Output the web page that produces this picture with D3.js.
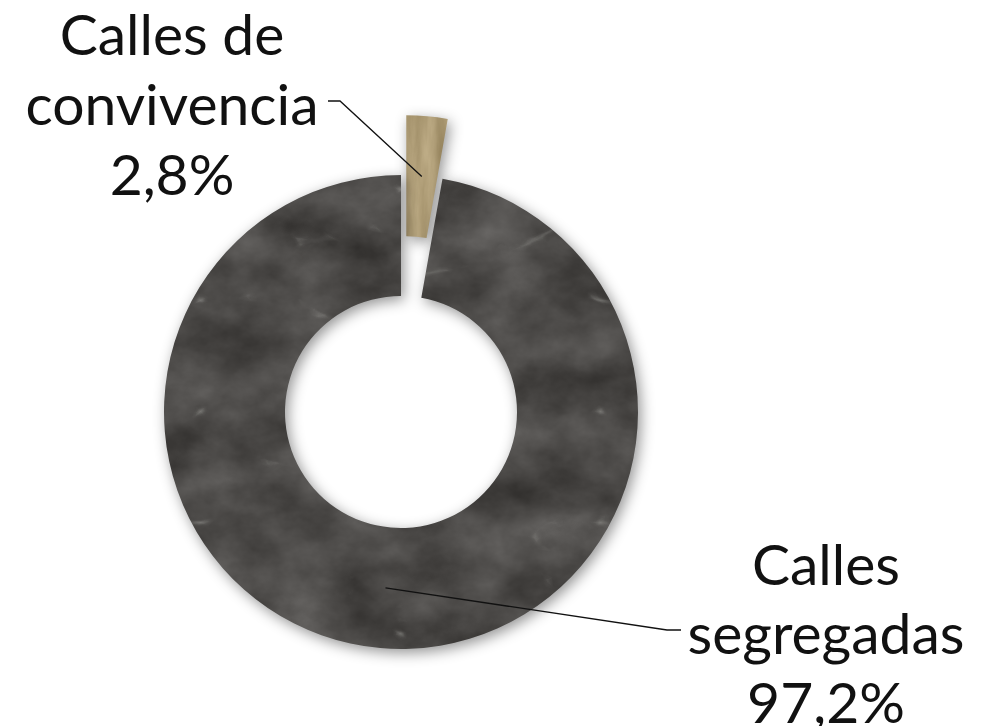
<!DOCTYPE html>
<html>
<head>
<meta charset="UTF-8">
<title>Calles</title>
<script src="https://cdnjs.cloudflare.com/ajax/libs/d3/7.8.5/d3.min.js"></script>
<style>
  html, body { margin: 0; padding: 0; background: #fff; }
  svg { display: block; }
  .lbl { font-family: Lato, "Open Sans", sans-serif; font-size: 57px; fill: #111; }
</style>
</head>
<body>
<div id="chart"></div>
<script>
// data
const categories = ["Calles de convivencia", "Calles segregadas"];
const values = [2.8, 97.2];
const labelLines = [["Calles de", "convivencia", "2,8%"], ["Calles", "segregadas", "97,2%"]];

const W = 997, H = 726;
const cx = 401, cy = 412;
const rOuter = 237, rInner = 116;
const explode = [60, 0];

const svg = d3.select("#chart").append("svg")
    .attr("width", W)
    .attr("height", H);

const defs = svg.append("defs");

// stone look: noise texture + light veins + soft drop shadow
function stoneFilter(id, off, amp, freq, veinFreq, veinAlpha, seed) {
    const f = defs.append("filter")
        .attr("id", id)
        .attr("filterUnits", "userSpaceOnUse")
        .attr("x", -W).attr("y", -H).attr("width", 2 * W).attr("height", 2 * H)
        .attr("color-interpolation-filters", "sRGB");
    f.append("feTurbulence")
        .attr("type", "fractalNoise").attr("baseFrequency", freq)
        .attr("numOctaves", 5).attr("seed", seed).attr("result", "n");
    f.append("feColorMatrix").attr("in", "n").attr("type", "matrix")
        .attr("values", `${amp} 0 0 0 ${off[0]}  ${amp} 0 0 0 ${off[1]}  ${amp} 0 0 0 ${off[2]}  0 0 0 0 1`)
        .attr("result", "tex");
    f.append("feTurbulence")
        .attr("type", "turbulence").attr("baseFrequency", veinFreq)
        .attr("numOctaves", 4).attr("seed", seed + 4).attr("result", "t");
    const ct = f.append("feComponentTransfer").attr("in", "t").attr("result", "veins");
    const tbl = [1, 0.6, 0.15].concat(d3.range(27).map(() => 0));
    ct.append("feFuncR").attr("type", "linear").attr("slope", 0).attr("intercept", 0.7);
    ct.append("feFuncG").attr("type", "linear").attr("slope", 0).attr("intercept", 0.7);
    ct.append("feFuncB").attr("type", "linear").attr("slope", 0).attr("intercept", 0.68);
    ct.append("feFuncA").attr("type", "table").attr("tableValues", tbl.map(v => v * veinAlpha).join(" "));
    const m1 = f.append("feMerge").attr("result", "stone");
    m1.append("feMergeNode").attr("in", "tex");
    m1.append("feMergeNode").attr("in", "veins");
    f.append("feComposite").attr("in", "stone").attr("in2", "SourceGraphic")
        .attr("operator", "in").attr("result", "slab");
    f.append("feGaussianBlur").attr("in", "SourceAlpha").attr("stdDeviation", 7).attr("result", "b");
    f.append("feOffset").attr("in", "b").attr("dx", 3).attr("dy", 4).attr("result", "bo");
    f.append("feFlood").attr("flood-color", "#000").attr("flood-opacity", 0.42);
    f.append("feComposite").attr("in2", "bo").attr("operator", "in").attr("result", "shadow");
    const m2 = f.append("feMerge");
    m2.append("feMergeNode").attr("in", "shadow");
    m2.append("feMergeNode").attr("in", "slab");
}

stoneFilter("beige", [0.51, 0.44, 0.29], 0.3, "0.05 0.008", "0.03 0.004", 0.0, 2);
stoneFilter("slate", [0.173, 0.165, 0.157], 0.25, "0.015 0.02", "0.005 0.009", 0.4, 5);

const fills = ["#a8966f", "#4c4a48"];
const filters = ["url(#beige)", "url(#slate)"];

const pie = d3.pie().sort(null).value(d => d);
const arcs = pie(values);

const arc = d3.arc().innerRadius(rInner).outerRadius(rOuter);

function shift(d, i) {
    const a = (d.startAngle + d.endAngle) / 2;
    return [Math.sin(a) * explode[i], -Math.cos(a) * explode[i]];
}

const g = svg.append("g").attr("transform", `translate(${cx},${cy})`);

g.selectAll("path.slice")
    .data(arcs)
    .join("path")
    .attr("class", "slice")
    .attr("d", arc)
    .attr("fill", (d, i) => fills[i])
    .attr("transform", (d, i) => `translate(${shift(d, i)})`)
    .attr("filter", (d, i) => filters[i]);

// leader lines: from slice centroid to label
const labelPos = [
    { elbow: [340, 101], end: [328, 101], x: 172, y: 55, step: 70 },
    { elbow: [667, 630], end: [681, 630], x: 826, y: 585, step: 69 }
];

arcs.forEach((d, i) => {
    const c = arc.centroid(d);
    const s = shift(d, i);
    const p0 = [cx + c[0] + s[0], cy + c[1] + s[1]];
    svg.append("path")
        .attr("d", d3.line()([p0, labelPos[i].elbow, labelPos[i].end]))
        .attr("fill", "none")
        .attr("stroke", "#111")
        .attr("stroke-width", 1.3);

    const t = svg.append("text")
        .attr("class", "lbl")
        .attr("text-anchor", "middle")
        .attr("x", labelPos[i].x)
        .attr("y", labelPos[i].y);
    labelLines[i].forEach((ln, k) => {
        t.append("tspan")
            .attr("x", labelPos[i].x)
            .attr("y", labelPos[i].y + k * labelPos[i].step)
            .text(ln);
    });
});
</script>
</body>
</html>
